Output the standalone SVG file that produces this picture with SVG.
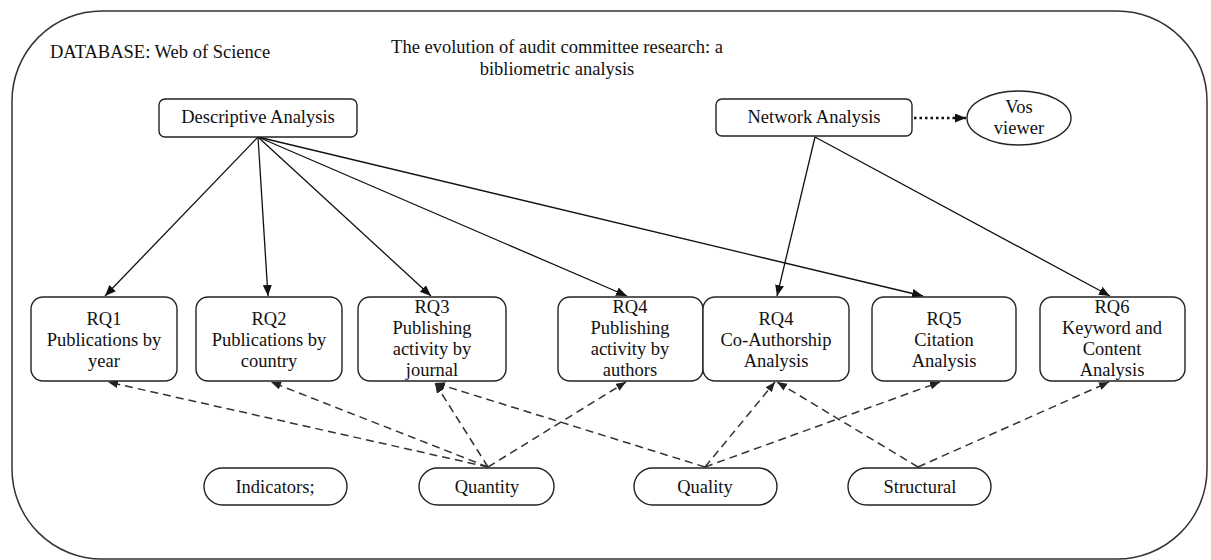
<svg xmlns="http://www.w3.org/2000/svg" width="1211" height="560" viewBox="0 0 1211 560" font-family="'Liberation Serif', Tinos, 'DejaVu Serif', serif">
<style>
text{font-family:'Liberation Serif',Tinos,'DejaVu Serif',serif;font-size:18.5px;fill:#111;text-anchor:middle}
.box{fill:#fff;stroke:#222;stroke-width:1.4}
.solid{stroke:#111;stroke-width:1.3;fill:none;marker-end:url(#ah)}
.dash{stroke:#333;stroke-width:1.5;fill:none;stroke-dasharray:8 5;marker-end:url(#ahs)}
.dot{stroke:#111;stroke-width:2.5;fill:none;stroke-dasharray:2.5 3;marker-end:url(#ah)}
</style>
<defs>
<marker id="ah" markerUnits="userSpaceOnUse" markerWidth="12" markerHeight="10" refX="11" refY="4.5" orient="auto"><path d="M0,0 L11,4.5 L0,9 z" fill="#111"/></marker>
<marker id="ahs" markerUnits="userSpaceOnUse" markerWidth="11" markerHeight="9" refX="10" refY="4" orient="auto"><path d="M0,0 L10,4 L0,8 z" fill="#222"/></marker>
</defs>
<rect x="12" y="11" width="1195" height="548" rx="90" ry="90" fill="#fff" stroke="#333" stroke-width="1.5"/>
<text x="50" y="58" style="text-anchor:start">DATABASE: Web of Science</text>
<text x="557" y="53">The evolution of audit committee research: a</text>
<text x="557" y="75">bibliometric analysis</text>
<g id="connectors">
<line class="solid" x1="258" y1="137" x2="105" y2="296"/>
<line class="solid" x1="258" y1="137" x2="268" y2="296"/>
<line class="solid" x1="258" y1="137" x2="431" y2="296"/>
<line class="solid" x1="258" y1="137" x2="627" y2="296"/>
<line class="solid" x1="258" y1="137" x2="923" y2="296"/>
<line class="solid" x1="815" y1="137" x2="777" y2="296"/>
<line class="solid" x1="815" y1="137" x2="1110" y2="296"/>
<line class="dot" x1="914" y1="118" x2="966" y2="118"/>
<line class="dash" x1="488" y1="467" x2="108" y2="382"/>
<line class="dash" x1="488" y1="467" x2="271" y2="382"/>
<line class="dash" x1="488" y1="467" x2="435" y2="383"/>
<line class="dash" x1="488" y1="467" x2="626" y2="382"/>
<line class="dash" x1="705" y1="467" x2="435" y2="383"/>
<line class="dash" x1="705" y1="467" x2="775" y2="382"/>
<line class="dash" x1="705" y1="467" x2="940" y2="382"/>
<line class="dash" x1="918" y1="467" x2="777" y2="382"/>
<line class="dash" x1="918" y1="467" x2="1109" y2="382"/>
</g>
<g id="descriptive"><rect class="box" x="159" y="99" width="198" height="38" rx="6"/><text x="258" y="123">Descriptive Analysis</text></g>
<g id="network"><rect class="box" x="716" y="99" width="196" height="37" rx="6"/><text x="814" y="123">Network Analysis</text></g>
<g id="vos"><ellipse class="box" cx="1019" cy="118" rx="52" ry="27"/><text x="1019" y="113">Vos</text><text x="1019" y="134">viewer</text></g>
<g id="rq1"><rect class="box" x="31" y="297" width="146" height="84" rx="12"/><text x="104" y="325">RQ1</text><text x="104" y="346">Publications by</text><text x="104" y="367">year</text></g>
<g id="rq2"><rect class="box" x="196" y="297" width="146" height="84" rx="12"/><text x="269" y="325">RQ2</text><text x="269" y="346">Publications by</text><text x="269" y="367">country</text></g>
<g id="rq3"><rect class="box" x="358" y="297" width="148" height="84" rx="12"/><text x="432" y="313">RQ3</text><text x="432" y="334">Publishing</text><text x="432" y="355">activity by</text><text x="432" y="376">journal</text></g>
<g id="rq4a"><rect class="box" x="558" y="297" width="145" height="84" rx="12"/><text x="630" y="313">RQ4</text><text x="630" y="334">Publishing</text><text x="630" y="355">activity by</text><text x="630" y="376">authors</text></g>
<g id="rq4b"><rect class="box" x="703" y="297" width="146" height="84" rx="12"/><text x="776" y="325">RQ4</text><text x="776" y="346">Co-Authorship</text><text x="776" y="367">Analysis</text></g>
<g id="rq5"><rect class="box" x="872" y="297" width="144" height="84" rx="12"/><text x="944" y="325">RQ5</text><text x="944" y="346">Citation</text><text x="944" y="367">Analysis</text></g>
<g id="rq6"><rect class="box" x="1040" y="297" width="145" height="84" rx="12"/><text x="1112" y="313">RQ6</text><text x="1112" y="334">Keyword and</text><text x="1112" y="355">Content</text><text x="1112" y="376">Analysis</text></g>
<g id="indicators"><rect class="box" x="204" y="468" width="143" height="37" rx="18.5"/><text x="275" y="493">Indicators;</text></g>
<g id="quantity"><rect class="box" x="419" y="468" width="135" height="37" rx="18.5"/><text x="487" y="493">Quantity</text></g>
<g id="quality"><rect class="box" x="634" y="468" width="143" height="37" rx="18.5"/><text x="705" y="493">Quality</text></g>
<g id="structural"><rect class="box" x="848" y="468" width="143" height="37" rx="18.5"/><text x="920" y="493">Structural</text></g>
</svg>
